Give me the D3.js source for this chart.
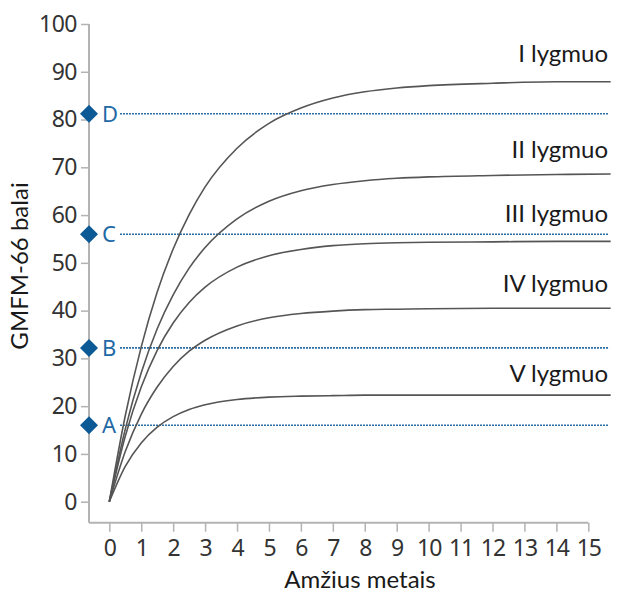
<!DOCTYPE html>
<html>
<head>
<meta charset="utf-8">
<script src="https://cdn.jsdelivr.net/npm/d3@7"></script>
<style>
  body { margin: 0; background: #fff; }
  svg { display: block; }
</style>
</head>
<body>
<svg id="chart"></svg>
<script>
  // values
  var ages = [0, 0.5, 1, 1.5, 2, 2.5, 3, 4, 5, 6, 7, 8, 9, 10, 12, 14, 15.7]
  var levelNames = ["I lygmuo", "II lygmuo", "III lygmuo", "IV lygmuo", "V lygmuo"]
  var level1 = [0, 18.0, 32.4, 43.9, 52.9, 60.1, 65.9, 74.0, 79.2, 82.4, 84.5, 85.8, 86.6, 87.1, 87.6, 87.9, 87.9]
  var level2 = [0, 15.2, 27.0, 36.2, 43.3, 48.9, 53.2, 59.2, 62.9, 65.1, 66.4, 67.2, 67.7, 68.0, 68.3, 68.5, 68.6]
  var level3 = [0, 13.7, 24.0, 31.7, 37.4, 41.7, 44.9, 49.1, 51.5, 52.8, 53.6, 54.0, 54.2, 54.3, 54.4, 54.5, 54.5]
  var level4 = [0, 10.5, 18.3, 24.0, 28.3, 31.5, 33.8, 36.8, 38.5, 39.4, 39.9, 40.2, 40.3, 40.4, 40.5, 40.5, 40.5]
  var level5 = [0, 7.4, 12.3, 15.6, 17.8, 19.3, 20.3, 21.4, 21.9, 22.1, 22.2, 22.3, 22.3, 22.3, 22.3, 22.3, 22.3]

  var markLetters = ["D", "C", "B", "A"]
  var markValues = [81.2, 56.0, 32.2, 16.0]

  var xTicks = d3.range(0, 16)
  var yTicks = d3.range(0, 101, 10)

  var width = 626
  var height = 594

  var series = [level1, level2, level3, level4, level5]

  var svg = d3.select("#chart").attr("width", width).attr("height", height)

  var xScale = d3.scaleLinear().domain([0, 15]).range([109.3, 588.3])
  var yScale = d3.scaleLinear().domain([0, 100]).range([501.7, 24])

  var axisX = 89      // where the y axis line sits
  var axisY = 522.7   // where the x axis line sits
  var axisColor = "#b3b3b3"
  var lineEnd = 15.65

  // y axis
  var gy = svg.append("g")
    .attr("transform", `translate(${axisX},0)`)
    .call(d3.axisLeft(yScale).tickValues(yTicks).tickSize(8).tickPadding(4))
  gy.select(".domain").remove()
  gy.selectAll(".tick line").attr("stroke", axisColor).attr("stroke-width", 1.5)
  gy.selectAll(".tick text")
    .attr("fill", "#333")
    .style("font-family", "Noto Sans, sans-serif")
    .style("font-size", "23px")
    .style("letter-spacing", "-0.5px")

  // x axis
  var gx = svg.append("g")
    .attr("transform", `translate(0,${axisY})`)
    .call(d3.axisBottom(xScale).tickValues(xTicks).tickSize(9).tickPadding(8))
  gx.select(".domain").remove()
  gx.selectAll(".tick line").attr("stroke", axisColor).attr("stroke-width", 1.5)
  gx.selectAll(".tick text")
    .attr("fill", "#333")
    .style("font-family", "Noto Sans, sans-serif")
    .style("font-size", "23px")
    .style("letter-spacing", "-1px")

  // axis lines
  svg.append("line")
    .attr("x1", axisX).attr("x2", axisX)
    .attr("y1", yScale(100)).attr("y2", axisY)
    .attr("stroke", axisColor).attr("stroke-width", 2)
  svg.append("line")
    .attr("x1", axisX).attr("x2", xScale(15))
    .attr("y1", axisY).attr("y2", axisY)
    .attr("stroke", axisColor).attr("stroke-width", 2)

  // dotted reference lines
  svg.selectAll(".ref").data(markValues)
    .enter().append("line")
    .attr("class", "ref")
    .attr("x1", axisX + 31).attr("x2", xScale(lineEnd))
    .attr("y1", d => yScale(d)).attr("y2", d => yScale(d))
    .attr("stroke", "#2c6ea6")
    .attr("stroke-width", 1.6)
    .attr("stroke-dasharray", "2,1")

  // curves
  var line = d3.line()
    .x((d, i) => xScale(ages[i]))
    .y(d => yScale(d))
    .curve(d3.curveMonotoneX)

  svg.selectAll(".curve").data(series)
    .enter().append("path")
    .attr("class", "curve")
    .attr("d", d => line(d))
    .attr("fill", "none")
    .attr("stroke", "#555")
    .attr("stroke-width", 1.6)

  // level labels
  var labelOffsets = [-20, -16, -19, -16, -13]
  svg.selectAll(".lvl").data(levelNames)
    .enter().append("text")
    .attr("class", "lvl")
    .attr("x", xScale(lineEnd) - 1)
    .attr("y", (d, i) => yScale(series[i][series[i].length - 1]) + labelOffsets[i])
    .attr("text-anchor", "end")
    .attr("fill", "#1a1a1a")
    .style("font-family", "Lato, sans-serif")
    .style("font-size", "24px")
    .text(d => d)

  // diamonds and letters
  svg.selectAll(".dia").data(markValues)
    .enter().append("path")
    .attr("class", "dia")
    .attr("transform", d => `translate(${axisX},${yScale(d)})`)
    .attr("d", "M0,-9L9,0L0,9L-9,0Z")
    .attr("fill", "#0b5a96")

  svg.selectAll(".letter").data(markLetters)
    .enter().append("text")
    .attr("class", "letter")
    .attr("x", axisX + 13)
    .attr("y", (d, i) => yScale(markValues[i]))
    .attr("dy", "0.36em")
    .attr("fill", "#1f6aa5")
    .style("font-family", "Noto Sans, sans-serif")
    .style("font-size", "22px")
    .text(d => d)

  // axis titles
  svg.append("text")
    .attr("x", 360)
    .attr("y", 588)
    .attr("text-anchor", "middle")
    .attr("fill", "#1a1a1a")
    .style("font-family", "Lato, sans-serif")
    .style("font-size", "24px")
    .text("Amžius metais")

  svg.append("text")
    .attr("transform", `translate(28,${266}) rotate(-90)`)
    .attr("text-anchor", "middle")
    .attr("fill", "#1a1a1a")
    .style("font-family", "Lato, sans-serif")
    .style("font-size", "24px")
    .text("GMFM-66 balai")
</script>
</body>
</html>
